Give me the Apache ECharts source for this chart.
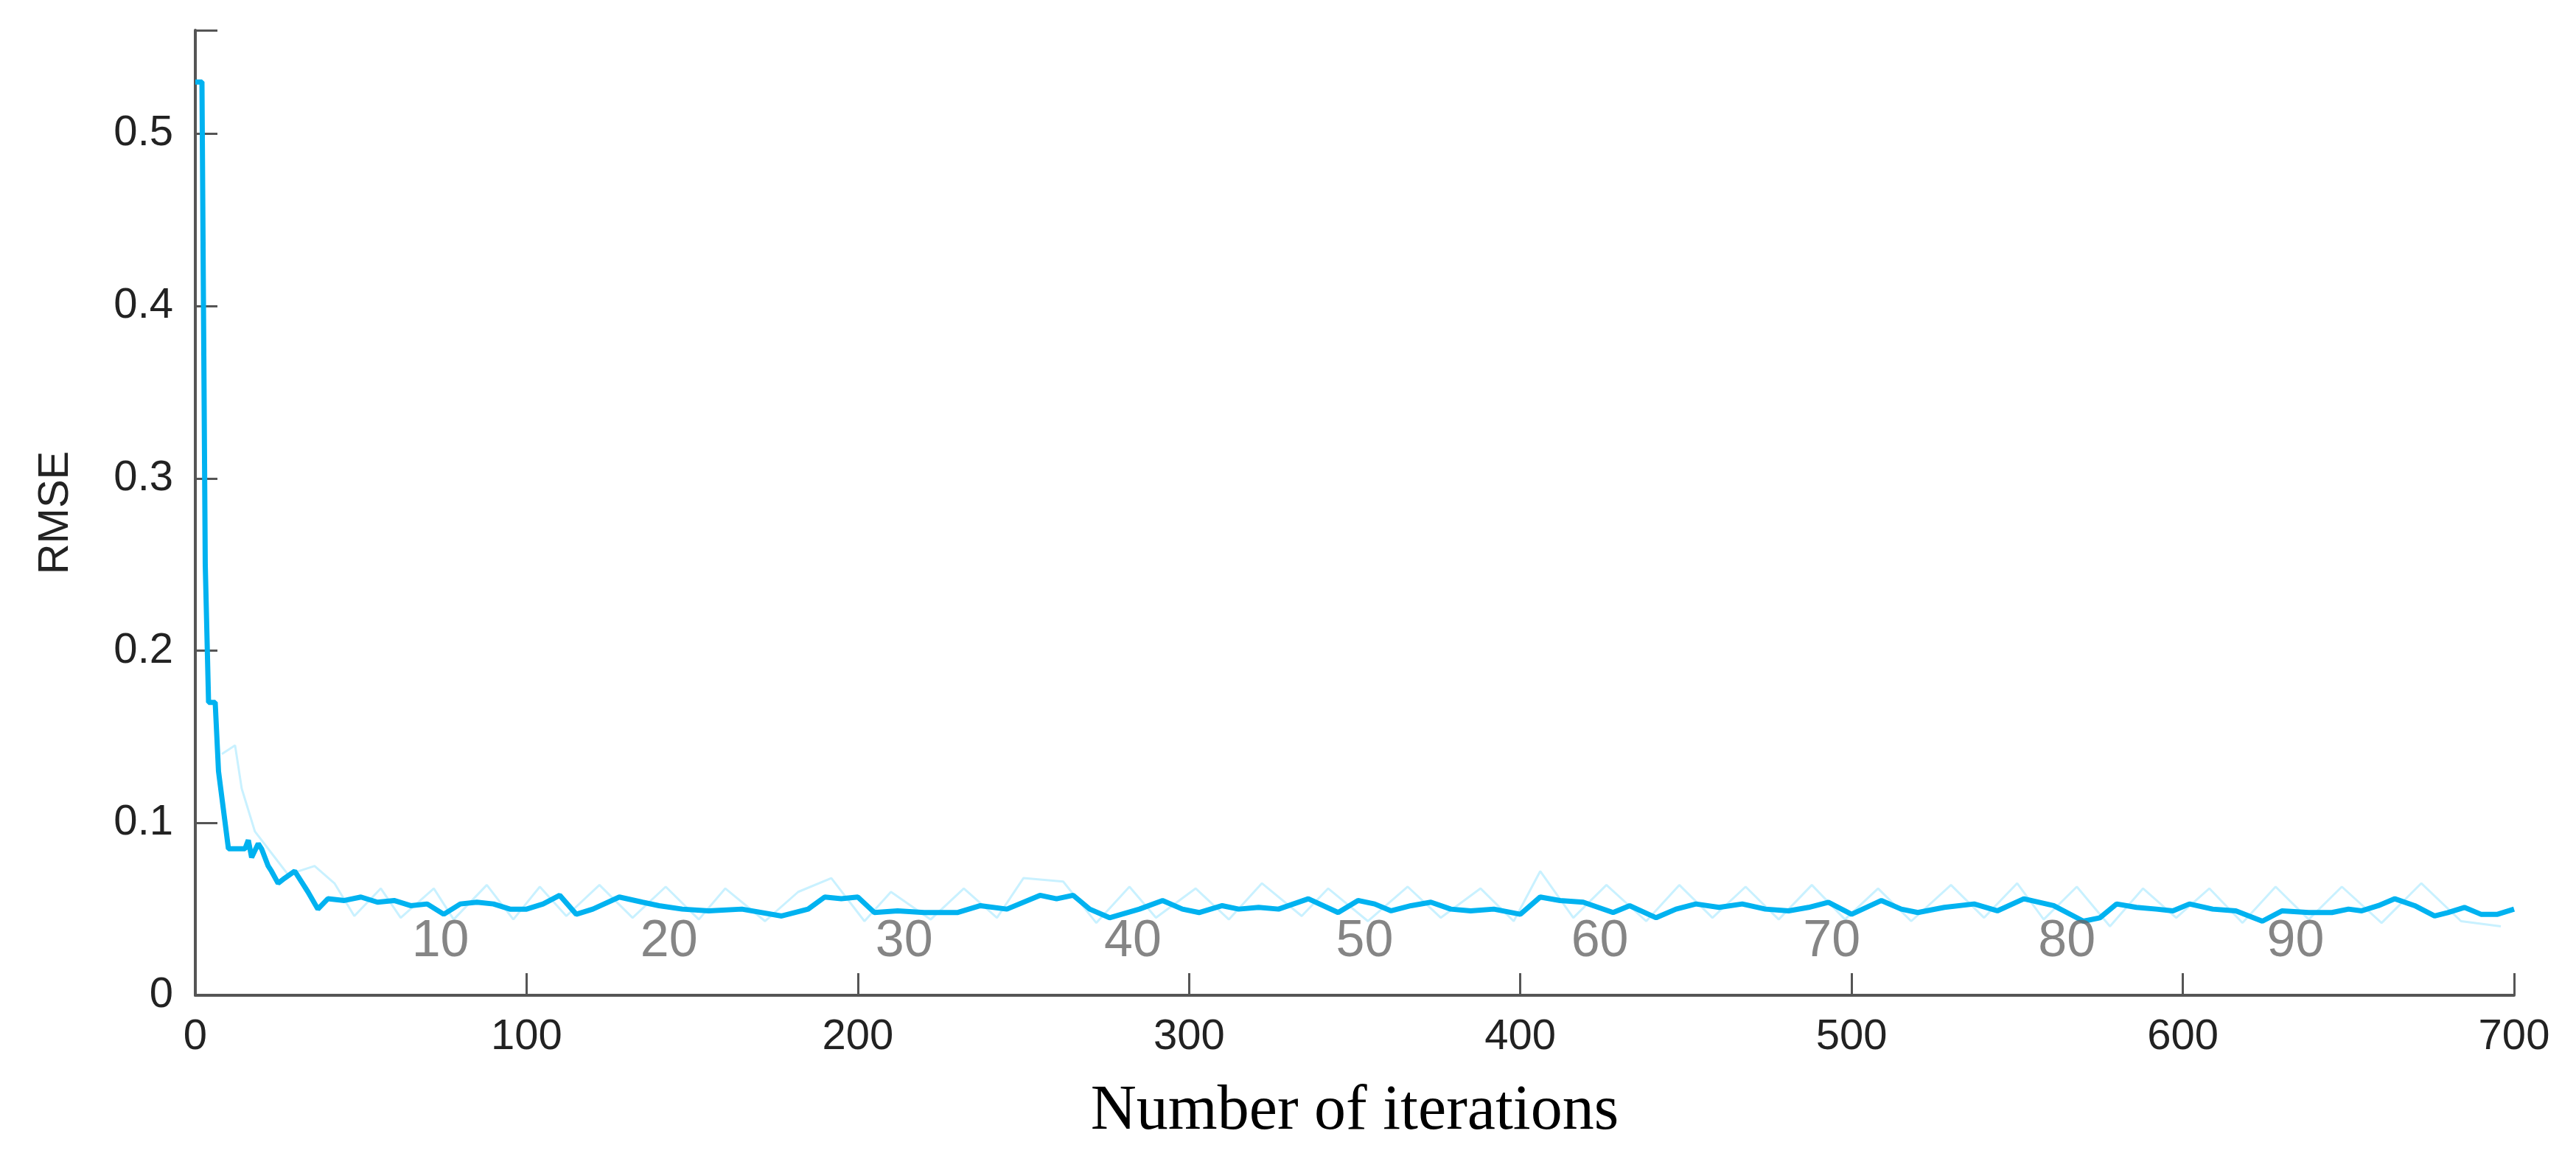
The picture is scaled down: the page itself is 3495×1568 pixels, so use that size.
<!DOCTYPE html>
<html><head><meta charset="utf-8">
<script src="https://cdn.jsdelivr.net/npm/echarts@6/dist/echarts.min.js"></script>
<style>html,body{margin:0;padding:0;background:#fff}#c{width:3495px;height:1568px}</style>
</head><body><div id="c"></div>
<script>
const mainX = [0,2,3,4,5,6,7,10,15,16,17,19,20,22,23,25,27,30,32,34,37,40,45,50,55,60,65,70,75,80,85,90,95,100,105,110,115,120,128,135,140,147,155,165,177,185,190,195,200,205,212,220,230,237,245,255,260,265,270,276,285,292,298,303,310,315,321,327,336,345,351,356,361,367,373,379,385,392,400,406,412,419,428,433,441,447,453,460,467,474,481,487,493,500,509,515,520,528,537,544,552,561,570,575,580,586,592,597,602,609,616,624,630,638,645,650,654,659,664,670,676,680,685,690,695,700];
const mainY = [0.53,0.53,0.25,0.17,0.17,0.17,0.13,0.085,0.085,0.09,0.08,0.088,0.085,0.075,0.072,0.065,0.068,0.072,0.066,0.06,0.05,0.056,0.055,0.057,0.054,0.055,0.052,0.053,0.047,0.053,0.054,0.053,0.05,0.05,0.053,0.058,0.047,0.05,0.057,0.054,0.052,0.05,0.049,0.05,0.046,0.05,0.057,0.056,0.057,0.048,0.049,0.048,0.048,0.052,0.05,0.058,0.056,0.058,0.05,0.045,0.05,0.055,0.05,0.048,0.052,0.05,0.051,0.05,0.056,0.048,0.055,0.053,0.049,0.052,0.054,0.05,0.049,0.05,0.047,0.057,0.055,0.054,0.048,0.052,0.045,0.05,0.053,0.051,0.053,0.05,0.049,0.051,0.054,0.047,0.055,0.05,0.048,0.051,0.053,0.049,0.056,0.052,0.043,0.045,0.053,0.051,0.05,0.049,0.053,0.05,0.049,0.043,0.049,0.048,0.048,0.05,0.049,0.052,0.056,0.052,0.046,0.048,0.051,0.047,0.047,0.05];
const faintX = [8,12,14,18,24,28,36,42,48,56,62,72,78,88,96,104,112,122,132,142,152,160,172,182,192,202,210,222,232,242,250,262,272,282,290,302,312,322,334,342,354,366,376,388,398,406,416,426,438,448,458,468,478,488,498,508,518,530,540,550,558,568,578,588,598,608,618,628,638,648,660,672,684,696];
const faintY = [0.14,0.145,0.12,0.095,0.08,0.07,0.075,0.065,0.046,0.062,0.045,0.062,0.044,0.064,0.044,0.063,0.046,0.064,0.045,0.063,0.044,0.062,0.043,0.06,0.068,0.043,0.06,0.044,0.062,0.045,0.068,0.066,0.042,0.063,0.045,0.062,0.044,0.065,0.046,0.062,0.043,0.063,0.045,0.062,0.043,0.072,0.045,0.064,0.043,0.064,0.045,0.063,0.044,0.064,0.044,0.062,0.043,0.064,0.045,0.065,0.044,0.063,0.04,0.062,0.045,0.062,0.042,0.063,0.044,0.063,0.042,0.065,0.043,0.04];
const epochLabels = ["10","20","30","40","50","60","70","80","90"];
const epochPos = [74,143,214,283,353,424,494,565,634];
const epochY = 0.031;
const xTicks = [0,100,200,300,400,500,600,700];
const yTicks = [0,0.1,0.2,0.3,0.4,0.5];

const faint = [];
for (let i = 0; i < faintX.length; i++) {
  const mi = mainX.findIndex(v => v >= faintX[i]);
  faint.push([faintX[i], faintY[i]]);
}
const chart = echarts.init(document.getElementById('c'));
chart.setOption({
  animation: false,
  grid: {left: 265, right: 84, top: 41, bottom: 218},
  xAxis: {
    type: 'value', min: 0, max: 700, interval: 100,
    name: 'Number of iterations', nameLocation: 'middle', nameGap: 115,
    nameTextStyle: {fontFamily: 'Liberation Serif', fontSize: 86, color: '#000'},
    axisLine: {lineStyle: {color: '#555', width: 4}},
    axisTick: {inside: true, length: 30, lineStyle: {color: '#555', width: 3}},
    axisLabel: {fontFamily: 'Liberation Sans', fontSize: 58, color: '#222', margin: 28},
    splitLine: {show: false}
  },
  yAxis: {
    type: 'value', min: 0, max: 0.56, interval: 0.1,
    name: 'RMSE', nameLocation: 'middle', nameGap: 160, nameRotate: 90,
    nameTextStyle: {fontFamily: 'Liberation Sans', fontSize: 58, color: '#222'},
    axisLine: {show: true, lineStyle: {color: '#555', width: 4}},
    axisTick: {inside: true, length: 30, lineStyle: {color: '#555', width: 3}},
    axisLabel: {fontFamily: 'Liberation Sans', fontSize: 58, color: '#222', margin: 30,
      formatter: v => yTicks.some(t => Math.abs(t - v) < 1e-9) ? String(+v.toFixed(1)) : ''},
    splitLine: {show: false}
  },
  series: [
    {type: 'line', data: faint, symbol: 'none', z: 1,
     lineStyle: {color: '#c9f1ff', width: 3}},
    {type: 'line', data: mainX.map((x, i) => [x, mainY[i]]), symbol: 'none', z: 2,
     lineStyle: {color: '#00B2F0', width: 7}},
    {type: 'scatter', data: epochPos.map((x, i) => [x, epochY, epochLabels[i]]), symbolSize: 0, z: 3,
     label: {show: true, position: 'inside', formatter: p => p.data[2],
       fontFamily: 'Liberation Sans', fontSize: 70, color: '#666'}}
  ]
});
</script></body></html>
